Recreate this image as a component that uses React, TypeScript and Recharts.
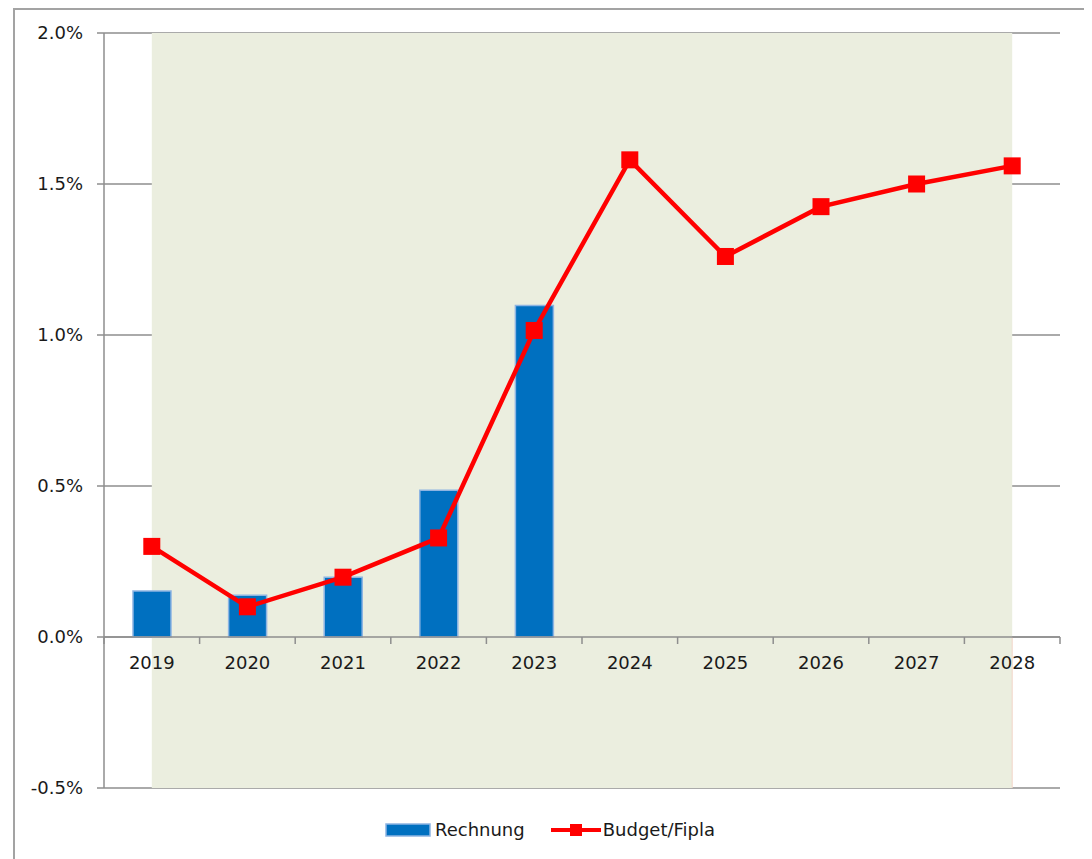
import {
  ComposedChart, Bar, Line, XAxis, YAxis, CartesianGrid, ReferenceArea,
  ReferenceLine, ReferenceDot, Legend,
} from 'recharts';

const YEARS = [2019, 2020, 2021, 2022, 2023, 2024, 2025, 2026, 2027, 2028];
const RECHNUNG = [0.152, 0.138, 0.198, 0.486, 1.098, null, null, null, null, null];
const BUDGET = [0.3, 0.1, 0.198, 0.328, 1.015, 1.58, 1.26, 1.425, 1.5, 1.56];
const Y_TICKS = [-0.5, 0, 0.5, 1.0, 1.5, 2.0];

const FONT = '"DejaVu Sans", sans-serif';
const AXIS_GRAY = '#8E8E8E';
const BLUE = '#0070C0';
const BLUE_EDGE = '#8DB4E2';
const RED = '#FF0000';

const data = YEARS.map((year, i) => ({ year, rechnung: RECHNUNG[i], budget: BUDGET[i] }));
const boundaries = [...YEARS.map(y => y - 0.5), YEARS[YEARS.length - 1] + 0.5];

function SquareDot(props: any) {
  const { cx, cy, index } = props;
  if (cx == null || cy == null) return null;
  return <rect key={`d-${index}`} x={cx - 8.5} y={cy - 8.5} width={17} height={17} fill={RED} />;
}

function LegendContent() {
  return (
    <div style={{ display: 'flex', justifyContent: 'center', alignItems: 'center', fontFamily: FONT, fontSize: 18, color: '#1a1a1a' }}>
      <svg width={46} height={14} style={{ marginRight: 4 }}>
        <rect x={1} y={1} width={44} height={12} fill={BLUE} stroke={BLUE_EDGE} strokeWidth={1.5} />
      </svg>
      <span style={{ marginRight: 26 }}>Rechnung</span>
      <svg width={50} height={14} style={{ marginRight: 2 }}>
        <line x1={0} y1={7} x2={50} y2={7} stroke={RED} strokeWidth={4} />
        <rect x={19} y={1} width={12} height={12} fill={RED} />
      </svg>
      <span>Budget/Fipla</span>
    </div>
  );
}

export default function App() {
  return (
    <div style={{ position: 'relative', width: 1084, height: 851 }}>
      <div style={{ position: 'absolute', left: -8, top: 0, width: 2, height: 100, background: '#111' }} />
      <div
        style={{
          position: 'absolute', left: 5, top: 0, width: 1073, height: 860, boxSizing: 'border-box',
          border: '2px solid #A3A3A3', borderBottom: 'none',
        }}
      />
      <div style={{ position: 'absolute', left: 0, top: 0 }}>
        <ComposedChart width={1084} height={851} data={data} margin={{ top: 25, right: 32, bottom: 71, left: 0 }}>
          <CartesianGrid vertical={false} stroke={AXIS_GRAY} strokeWidth={1.5} />
          <XAxis dataKey="year" type="number" domain={[2018.5, 2028.5]} hide allowDataOverflow />
          <YAxis
            domain={[-0.5, 2]}
            ticks={Y_TICKS}
            width={96}
            tickFormatter={(v: number) => `${v.toFixed(1)}%`}
            tick={{ fill: '#1a1a1a', fontSize: 18, fontFamily: FONT }}
            tickSize={7}
            tickMargin={14}
            stroke={AXIS_GRAY}
            strokeWidth={1.5}
            allowDataOverflow
          />
          <ReferenceArea x1={2019} x2={2028} y1={-0.5} y2={2} fill="#EBEEDF" fillOpacity={1} stroke="none" />
          <ReferenceLine
            segment={[{ x: 2028, y: 0 }, { x: 2028, y: -0.5 }]}
            stroke="#F2D6C8"
            strokeWidth={1}
          />
          <ReferenceLine y={0} stroke={AXIS_GRAY} strokeWidth={1.5} />
          {boundaries.map(b => (
            <ReferenceDot
              key={`t-${b}`}
              x={b}
              y={0}
              shape={(p: any) => <line x1={p.cx} y1={p.cy} x2={p.cx} y2={p.cy + 7} stroke={AXIS_GRAY} strokeWidth={1.5} />}
            />
          ))}
          {YEARS.map(y => (
            <ReferenceDot
              key={`l-${y}`}
              x={y}
              y={0}
              shape={(p: any) => (
                <text x={p.cx} y={p.cy + 32} textAnchor="middle" fontSize={18} fontFamily={FONT} fill="#1a1a1a">
                  {y}
                </text>
              )}
            />
          ))}
          <Bar
            dataKey="rechnung"
            name="Rechnung"
            barSize={38}
            fill={BLUE}
            stroke={BLUE_EDGE}
            strokeWidth={1.5}
            isAnimationActive={false}
          />
          <Line
            dataKey="budget"
            name="Budget/Fipla"
            stroke={RED}
            strokeWidth={4.5}
            dot={SquareDot}
            activeDot={false}
            isAnimationActive={false}
          />
          <Legend
            verticalAlign="middle"
            align="center"
            content={LegendContent}
            wrapperStyle={{ top: 811, left: 0, width: 1084 }}
          />
        </ComposedChart>
      </div>
    </div>
  );
}
